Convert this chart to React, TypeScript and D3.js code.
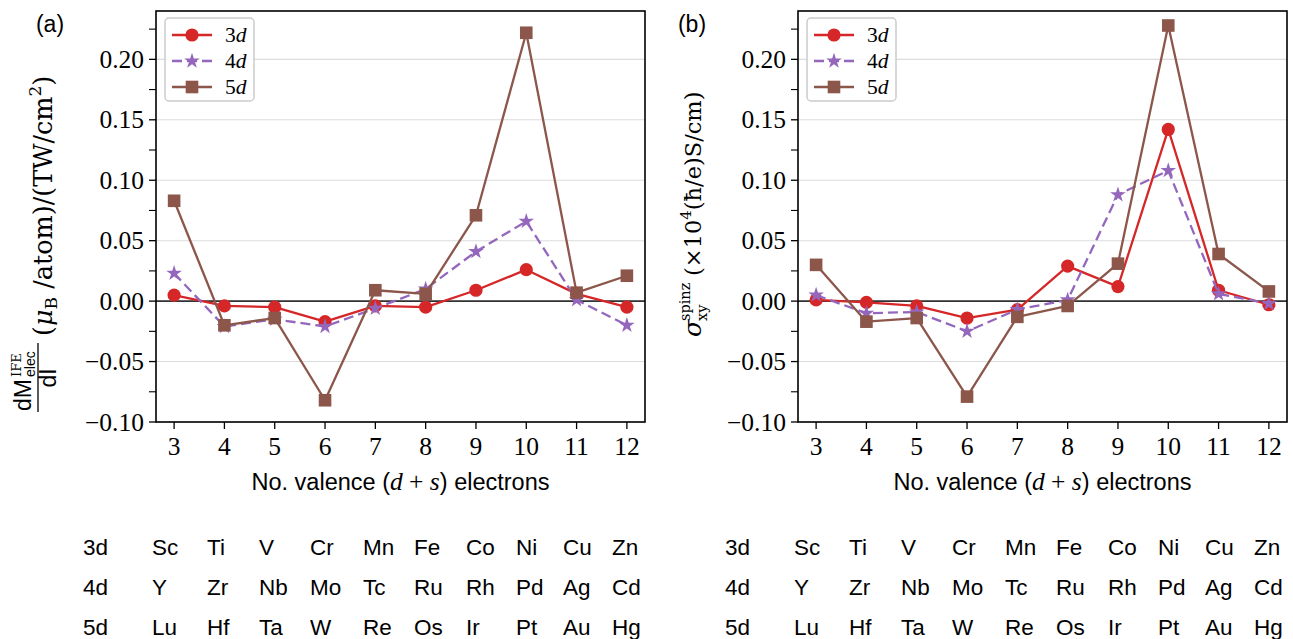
import React from 'react';
import * as d3 from 'd3';

// ---------- data ----------
const electrons = [3, 4, 5, 6, 7, 8, 9, 10, 11, 12];
const seriesNames = ['3', '4', '5'];

// panel (a): dM_elec^IFE / dI
const ife3d = [0.005, -0.004, -0.005, -0.017, -0.004, -0.005, 0.009, 0.026, 0.006, -0.005];
const ife4d = [0.023, -0.021, -0.015, -0.021, -0.006, 0.010, 0.041, 0.066, 0.001, -0.020];
const ife5d = [0.083, -0.020, -0.014, -0.082, 0.009, 0.006, 0.071, 0.222, 0.007, 0.021];

// panel (b): sigma_xy^spinz
const she3d = [0.001, -0.001, -0.004, -0.014, -0.007, 0.029, 0.012, 0.142, 0.009, -0.003];
const she4d = [0.005, -0.010, -0.009, -0.025, -0.007, 0.001, 0.088, 0.108, 0.006, -0.002];
const she5d = [0.030, -0.017, -0.014, -0.079, -0.013, -0.004, 0.031, 0.228, 0.039, 0.008];

const yTickValues = [-0.10, -0.05, 0.0, 0.05, 0.10, 0.15, 0.20];
const xTickValues = electrons;

const rowLabels = ['3d', '4d', '5d'];
const elements3d = ['Sc', 'Ti', 'V', 'Cr', 'Mn', 'Fe', 'Co', 'Ni', 'Cu', 'Zn'];
const elements4d = ['Y', 'Zr', 'Nb', 'Mo', 'Tc', 'Ru', 'Rh', 'Pd', 'Ag', 'Cd'];
const elements5d = ['Lu', 'Hf', 'Ta', 'W', 'Re', 'Os', 'Ir', 'Pt', 'Au', 'Hg'];

// ---------- styles / layout ----------
const W = 1293;
const H = 639;
const TOP = 11;
const BOT = 422;
const SERIF = '"Liberation Serif", "DejaVu Serif", serif';
const SERIF2 = '"DejaVu Serif", "Liberation Serif", serif';
const SANS = '"Liberation Sans", Arial, sans-serif';
const COLORS = ['#d62728', '#9467bd', '#8c564b'];
const MARKERS = ['circle', 'star', 'square'];
const DASHED = [false, true, false];
const COL_OFFSETS = [-4, 51, 103, 154, 207, 258, 310, 360, 407, 456];
const ROW_LABEL_OFFSET = -73;
const ROW_Y = [547, 587, 627];

const fmt = (v: number) => {
  const s = Math.abs(v).toFixed(2);
  return v < -1e-9 ? '\u2212' + s : s;
};

function Marker({ type, x, y, color }: { type: string; x: number; y: number; color: string }) {
  if (type === 'circle') return <circle cx={x} cy={y} r={6.6} fill={color} />;
  if (type === 'square') return <rect x={x - 6.3} y={y - 6.3} width={12.6} height={12.6} fill={color} />;
  const p = d3.symbol().type(d3.symbolStar).size(76)();
  return <path d={p || ''} transform={`translate(${x},${y})`} fill={color} />;
}

function Panel({ left, right, series, tag }: { left: number; right: number; series: number[][]; tag: string }) {
  const x = d3.scaleLinear().domain([2.64, 12.36]).range([left, right]);
  const y = d3.scaleLinear().domain([-0.10, 0.24]).range([BOT, TOP]);
  const minor = d3.range(-4, 10).filter((k) => k % 2 !== 0).map((k) => k * 0.025);
  const line = d3
    .line<number>()
    .x((_, i) => x(electrons[i]))
    .y((d) => y(d));
  const legX = left + 9;
  return (
    <g>
      {/* grid */}
      {yTickValues.map((v) => (
        <line key={'g' + v} x1={left} x2={right} y1={y(v)} y2={y(v)} stroke="#dcdcdc" strokeWidth={1.1} />
      ))}
      <line x1={left} x2={right} y1={y(0)} y2={y(0)} stroke="#333" strokeWidth={1.8} />
      {/* data */}
      {series.map((s, si) => (
        <g key={'s' + si}>
          <path
            d={line(s) || ''}
            fill="none"
            stroke={COLORS[si]}
            strokeWidth={2.3}
            strokeDasharray={DASHED[si] ? '10,5' : undefined}
            strokeLinejoin="round"
          />
          {s.map((v, i) => (
            <Marker key={i} type={MARKERS[si]} x={x(electrons[i])} y={y(v)} color={COLORS[si]} />
          ))}
        </g>
      ))}
      {/* frame */}
      <rect x={left} y={TOP} width={right - left} height={BOT - TOP} fill="none" stroke="#000" strokeWidth={1.6} />
      {/* y ticks */}
      {yTickValues.map((v) => (
        <g key={'yt' + v}>
          <line x1={left - 7} x2={left} y1={y(v)} y2={y(v)} stroke="#000" strokeWidth={1.3} />
          <text x={left - 12} y={y(v) + 8.5} textAnchor="end" fontFamily={SERIF} fontSize={25.5} fill="#000">
            {fmt(v)}
          </text>
        </g>
      ))}
      {minor.map((v) => (
        <line key={'ym' + v} x1={left - 7} x2={left} y1={y(v)} y2={y(v)} stroke="#000" strokeWidth={1.1} />
      ))}
      {/* x ticks */}
      {xTickValues.map((v) => (
        <g key={'xt' + v}>
          <line x1={x(v)} x2={x(v)} y1={BOT} y2={BOT + 7} stroke="#000" strokeWidth={1.3} />
          <text x={x(v)} y={BOT + 33} textAnchor="middle" fontFamily={SERIF} fontSize={25.5} fill="#000">
            {v}
          </text>
        </g>
      ))}
      {/* x label */}
      <text x={(left + right) / 2} y={490} textAnchor="middle" fontFamily={SANS} fontSize={23.5} fill="#000">
        No. valence (
        <tspan fontFamily={SERIF} fontStyle="italic" fontSize={25.5}>d</tspan>
        <tspan fontFamily={SERIF} fontSize={25.5}> + </tspan>
        <tspan fontFamily={SERIF} fontStyle="italic" fontSize={25.5}>s</tspan>) electrons
      </text>
      {/* legend */}
      <rect x={legX} y={18} width={89} height={83} rx={4} fill="#fff" fillOpacity={0.85} stroke="#cccccc" strokeWidth={1.5} />
      {seriesNames.map((n, si) => {
        const ly = 35 + si * 26;
        return (
          <g key={'l' + si}>
            <line
              x1={legX + 7}
              x2={legX + 47}
              y1={ly}
              y2={ly}
              stroke={COLORS[si]}
              strokeWidth={2.3}
              strokeDasharray={DASHED[si] ? '10,5' : undefined}
            />
            <Marker type={MARKERS[si]} x={legX + 27} y={ly} color={COLORS[si]} />
            <text x={legX + 60} y={ly + 7} fontFamily={SERIF} fontSize={21.5} fill="#000">
              {n}
              <tspan fontStyle="italic">d</tspan>
            </text>
          </g>
        );
      })}
      {/* panel tag */}
      <text x={left - 106} y={32} textAnchor="middle" fontFamily={SANS} fontSize={23} fill="#000">
        {tag}
      </text>
      {/* element table */}
      {[elements3d, elements4d, elements5d].map((row, ri) => (
        <g key={'r' + ri}>
          <text x={left + ROW_LABEL_OFFSET} y={ROW_Y[ri] + 8} fontFamily={SANS} fontSize={22.5} fill="#000">
            {rowLabels[ri]}
          </text>
          {row.map((el, ci) => (
            <text key={el} x={left + COL_OFFSETS[ci]} y={ROW_Y[ri] + 8} fontFamily={SANS} fontSize={22.5} fill="#000">
              {el}
            </text>
          ))}
        </g>
      ))}
    </g>
  );
}

export default function App() {
  return (
    <svg
      width={W}
      height={H}
      viewBox={`0 0 ${W} ${H}`}
      style={{ position: 'absolute', left: 0, top: 0, background: '#fff' }}
    >
      <rect x={0} y={0} width={W} height={H} fill="#fff" />
      <Panel left={156} right={645} series={[ife3d, ife4d, ife5d]} tag="(a)" />
      <Panel left={798} right={1287} series={[she3d, she4d, she5d]} tag="(b)" />

      {/* y label (a) */}
      <g transform="rotate(-90)">
        <text x={-411} y={31} fontFamily={SANS} fontSize={23} fill="#000">dM</text>
        <text x={-377} y={21} fontFamily={SERIF2} fontSize={13} fill="#000">IFE</text>
        <text x={-377} y={35} fontFamily={SANS} fontSize={14} fill="#000">elec</text>
        <line x1={-412} x2={-343} y1={38} y2={38} stroke="#000" strokeWidth={1.3} />
        <text x={-378} y={56} textAnchor="middle" fontFamily={SANS} fontSize={23} fill="#000">dI</text>
        <text x={-336} y={52} fontFamily={SERIF2} fontSize={25.5} fill="#000">
          (<tspan fontStyle="italic">μ</tspan>
          <tspan fontSize={17} dy={5}>B</tspan>
          <tspan dy={-5}> /atom)/(TW/cm</tspan>
          <tspan fontSize={17} dy={-11}>2</tspan>
          <tspan dy={11}>)</tspan>
        </text>
      </g>

      {/* y label (b) */}
      <g transform="rotate(-90)">
        <text x={-337} y={701} fontFamily={SERIF2} fontSize={25} fontStyle="italic" fill="#000">σ</text>
        <text x={-321} y={690} fontFamily={SERIF2} fontSize={14.5} fill="#000">spinz</text>
        <text x={-321} y={707} fontFamily={SERIF2} fontSize={14.5} fill="#000">xy</text>
        <text x={-276} y={701} fontFamily={SERIF2} fontSize={22.5} fill="#000">
          (×10<tspan fontSize={15} dy={-10}>4</tspan>
          <tspan dy={10}>(ħ/e)S/cm)</tspan>
        </text>
      </g>
    </svg>
  );
}
